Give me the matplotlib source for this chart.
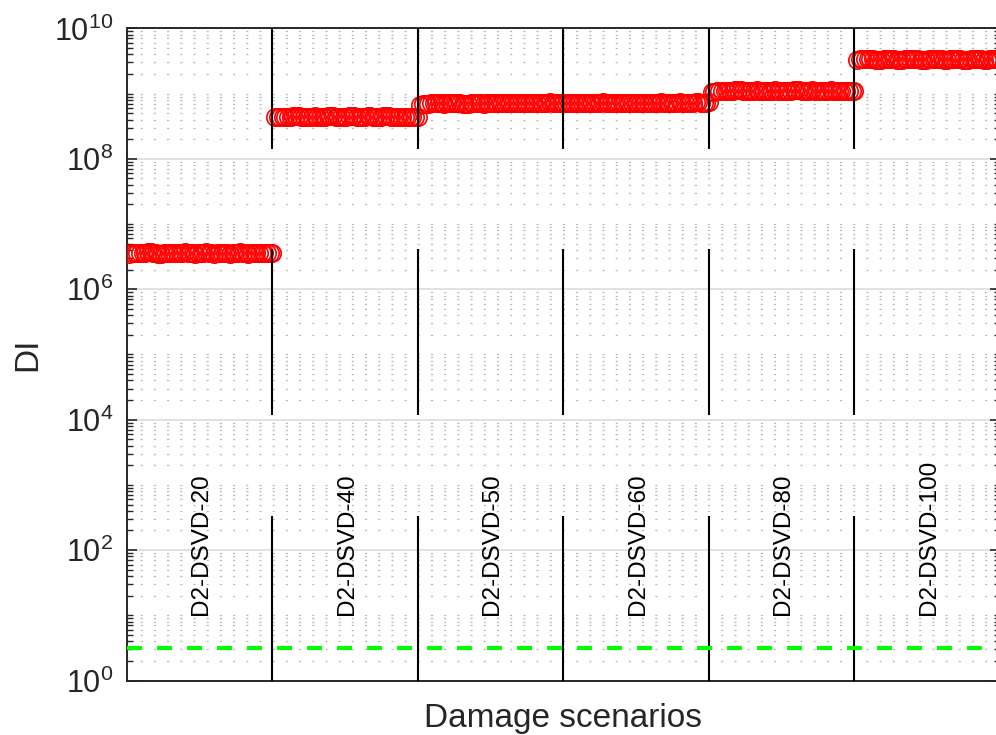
import numpy as np
import matplotlib
matplotlib.use("Agg")
import matplotlib.pyplot as plt
from matplotlib.ticker import LogLocator, FuncFormatter, NullLocator, NullFormatter

plt.rcParams['font.family'] = ['Liberation Sans', 'DejaVu Sans']
plt.rcParams['lines.scale_dashes'] = False

# damage index per scenario (55 samples each)
scenarios = ['D2-DSVD-20', 'D2-DSVD-40', 'D2-DSVD-50',
             'D2-DSVD-60', 'D2-DSVD-80', 'D2-DSVD-100']

di_20 = np.array([
    3.50, 3.55, 3.60, 3.62, 3.58, 3.55, 3.60, 3.66, 3.70, 3.64, 3.58,
    3.52, 3.50, 3.54, 3.60, 3.65, 3.62, 3.58, 3.55, 3.57, 3.62, 3.66,
    3.63, 3.58, 3.54, 3.52, 3.56, 3.60, 3.64, 3.66, 3.62, 3.57, 3.53,
    3.55, 3.60, 3.64, 3.61, 3.56, 3.52, 3.55, 3.59, 3.63, 3.66, 3.62,
    3.57, 3.53, 3.56, 3.61, 3.65, 3.62, 3.57, 3.55, 3.58, 3.62, 3.60]) * 1e6
di_40 = np.array([
    4.30, 4.35, 4.40, 4.45, 4.42, 4.38, 4.42, 4.50, 4.58, 4.52, 4.45,
    4.38, 4.33, 4.36, 4.42, 4.47, 4.44, 4.40, 4.38, 4.42, 4.48, 4.52,
    4.48, 4.42, 4.37, 4.34, 4.38, 4.44, 4.50, 4.54, 4.49, 4.43, 4.38,
    4.40, 4.45, 4.50, 4.46, 4.41, 4.36, 4.39, 4.44, 4.50, 4.55, 4.50,
    4.43, 4.37, 4.33, 4.36, 4.40, 4.38, 4.35, 4.33, 4.36, 4.40, 4.42]) * 1e8
di_50 = np.array([
    6.70, 6.85, 6.95, 7.00, 7.05, 7.10, 7.15, 7.12, 7.05, 7.00, 7.05,
    7.12, 7.20, 7.25, 7.18, 7.10, 7.02, 6.98, 7.03, 7.10, 7.18, 7.22,
    7.16, 7.08, 7.02, 7.06, 7.12, 7.20, 7.24, 7.18, 7.12, 7.08, 7.12,
    7.18, 7.25, 7.28, 7.22, 7.15, 7.10, 7.14, 7.20, 7.26, 7.30, 7.25,
    7.18, 7.12, 7.16, 7.22, 7.28, 7.32, 7.27, 7.20, 7.22, 7.28, 7.30]) * 1e8
di_60 = np.array([
    7.20, 7.15, 7.10, 7.12, 7.18, 7.25, 7.30, 7.25, 7.18, 7.12, 7.10,
    7.15, 7.22, 7.30, 7.35, 7.28, 7.20, 7.14, 7.12, 7.16, 7.22, 7.28,
    7.24, 7.18, 7.13, 7.10, 7.14, 7.20, 7.26, 7.30, 7.25, 7.18, 7.14,
    7.17, 7.23, 7.28, 7.32, 7.27, 7.20, 7.15, 7.18, 7.24, 7.30, 7.34,
    7.28, 7.22, 7.18, 7.21, 7.27, 7.32, 7.36, 7.30, 7.25, 7.28, 7.33]) * 1e8
di_80 = np.array([
    1.06, 1.07, 1.08, 1.09, 1.10, 1.11, 1.10, 1.09, 1.10, 1.12, 1.13,
    1.12, 1.10, 1.09, 1.08, 1.09, 1.11, 1.12, 1.11, 1.09, 1.08, 1.09,
    1.10, 1.11, 1.12, 1.11, 1.10, 1.09, 1.08, 1.09, 1.10, 1.12, 1.13,
    1.12, 1.10, 1.09, 1.10, 1.11, 1.12, 1.11, 1.09, 1.08, 1.09, 1.10,
    1.11, 1.12, 1.11, 1.10, 1.09, 1.10, 1.11, 1.10, 1.09, 1.10, 1.10]) * 1e9
di_100 = np.array([
    3.30, 3.34, 3.38, 3.40, 3.42, 3.40, 3.36, 3.32, 3.30, 3.33, 3.37,
    3.41, 3.43, 3.40, 3.36, 3.32, 3.29, 3.31, 3.35, 3.39, 3.42, 3.44,
    3.41, 3.37, 3.33, 3.30, 3.33, 3.37, 3.41, 3.44, 3.42, 3.38, 3.34,
    3.31, 3.33, 3.37, 3.40, 3.43, 3.41, 3.37, 3.33, 3.30, 3.32, 3.36,
    3.40, 3.43, 3.41, 3.37, 3.33, 3.31, 3.34, 3.38, 3.41, 3.39, 3.36]) * 1e9

threshold = 3.2
# vertical separators are drawn in three pieces
sep_spans = [(1.0, 3.36e2), (1.18e4, 4.13e6), (1.41e8, 1e10)]
n_per = 55

fig = plt.figure(figsize=(9.96, 7.35), dpi=100)
ax = fig.add_axes([0.1272, 0.0741, 0.8768, 0.8873])

all_di = [di_20, di_40, di_50, di_60, di_80, di_100]
for k, di in enumerate(all_di):
    x = k * n_per + np.arange(1, len(di) + 1)
    ax.plot(x, di, 'o', mfc='none', mec='red', ms=12.5, mew=1.2, zorder=3)

bounds = [n_per * k for k in range(1, len(all_di))]
for lo, hi in sep_spans:
    ax.vlines(bounds, lo, hi, colors='black', linewidth=1.5, zorder=4)

ax.plot([0, n_per * len(all_di)], [threshold, threshold], color=(0, 1, 0),
        linewidth=3, dashes=(10.8, 10.8), dash_capstyle='butt', zorder=5)

for k, name in enumerate(scenarios):
    ax.text(k * n_per + n_per / 2 + 0.6, 10, name, rotation=90,
            ha='center', va='bottom', fontsize=17.5, zorder=6)

ax.set_yscale('log')
ax.set_ylim(1, 1e10)
ax.set_xlim(0, n_per * len(all_di))

ax.set_yticks([1e0, 1e2, 1e4, 1e6, 1e8, 1e10])
ax.yaxis.set_minor_locator(LogLocator(base=10, subs=np.arange(1, 10), numticks=50))
ax.yaxis.set_minor_formatter(NullFormatter())
ax.yaxis.set_major_formatter(
    FuncFormatter(lambda v, p: r'$\mathregular{10^{%d}}$' % round(np.log10(v))))
ax.set_xticks([])
ax.xaxis.set_minor_locator(NullLocator())

dark = (0.15, 0.15, 0.15)
ax.tick_params(axis='y', which='both', direction='in', left=True, right=True,
               color=dark, labelcolor=dark, labelsize=22, pad=9.5)
ax.tick_params(axis='y', which='major', length=7, width=1.2)
ax.tick_params(axis='y', which='minor', length=4.3, width=1.0)
for s in ax.spines.values():
    s.set_color(dark)
    s.set_linewidth(1.4)

ax.grid(which='major', axis='y', color='#dedede', linewidth=1.3, linestyle='-')
ax.grid(which='minor', axis='y', color='#b8b8b8', linewidth=0.9,
        linestyle=(0, (1.5, 8.0)))
ax.set_axisbelow(True)

ax.set_xlabel('Damage scenarios', fontsize=24, color=dark, labelpad=16)
ax.set_ylabel('DI', fontsize=24, color=dark, labelpad=8)

fig.savefig('out.png', dpi=100)
